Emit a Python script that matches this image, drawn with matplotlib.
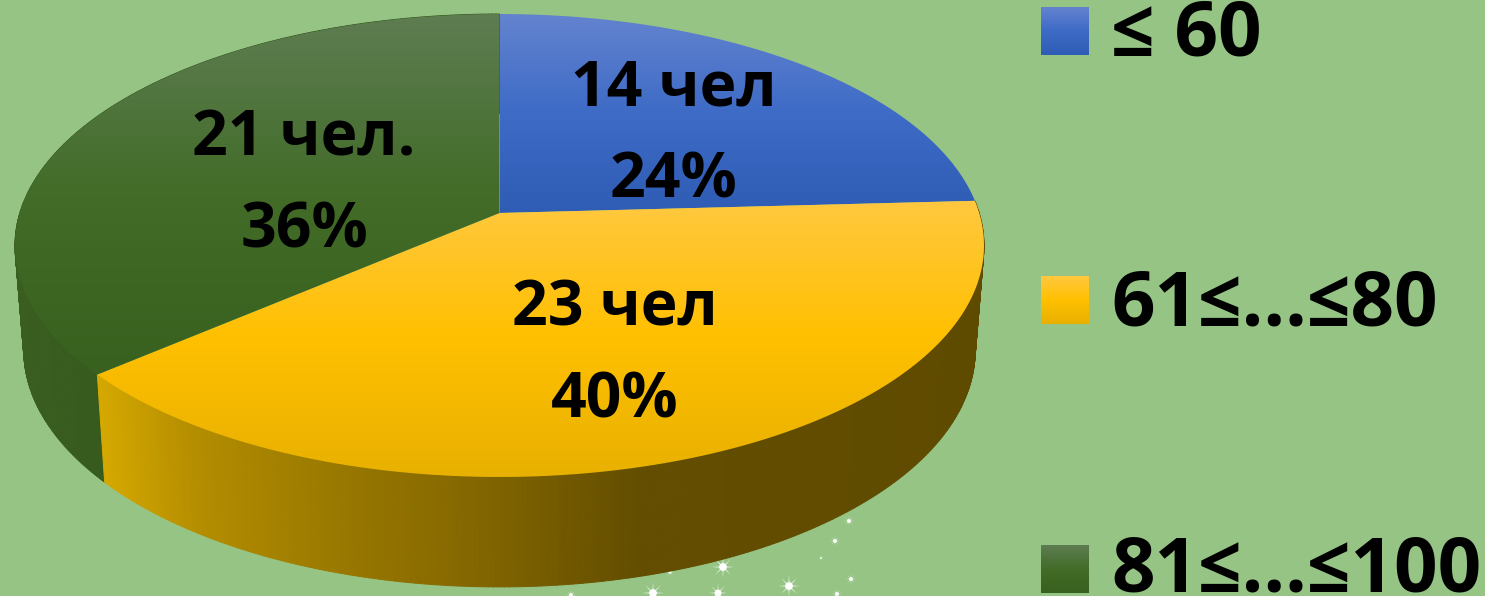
import matplotlib
matplotlib.use("Agg")
import matplotlib.pyplot as plt
from matplotlib.collections import PolyCollection
from matplotlib.colors import LinearSegmentedColormap, to_rgb
from matplotlib.patches import Polygon
from matplotlib.path import Path
import numpy as np

WIDTH, HEIGHT = 1485, 596
BG = "#95C484"

people = [14, 23, 21]
count_labels = ["14 чел", "23 чел", "21 чел."]
percent_labels = ["24%", "40%", "36%"]
legend_labels = ["≤ 60", "61≤...≤80", "81≤...≤100"]

top_colors = [
    ["#6483CF", "#3D6BC6", "#2F5CB4"],
    ["#FFC840", "#FFC000", "#E8B000"],
    ["#5E7D52", "#426C28", "#38601E"],
]
# x, baseline of the count, baseline of the percent
label_pos = [(674, 105, 197), (615, 326, 418), (304, 155, 247)]
legend_y = [7, 276, 545]
legend_base = [56, 325, 592]

# star sparkles along the bottom edge
star_x = [723, 789, 653, 849, 835, 821, 851, 718, 837, 571, 670]
star_y = [567, 586, 593, 521, 541, 558, 579, 593, 594, 595, 572]
star_s = [260, 260, 260, 60, 60, 12, 60, 200, 60, 60, 40]

CX = 499.5
TILT = 0.1404


def upper_rim(theta):
    u, v = np.sin(theta), np.cos(theta)
    w = 1 + TILT * v
    return CX + 479.7 * u / w, 213 - 226.9 * v / w


def lower_rim(theta):
    u, v = np.sin(theta), np.cos(theta)
    w = 1 + TILT * v
    return CX + 471 * u / w, 317 - 232 * v / w


def gradient(ax, colors, extent, clip=None):
    cmap = LinearSegmentedColormap.from_list("g", colors)
    img = ax.imshow(np.linspace(0, 1, 256).reshape(-1, 1), cmap=cmap, vmin=0, vmax=1,
                    extent=extent, aspect="auto", origin="upper", zorder=3)
    if clip is not None:
        patch = Polygon(clip, closed=True, transform=ax.transData, facecolor="none", edgecolor="none")
        ax.add_patch(patch)
        img.set_clip_path(patch)


def side_wall(ax, start, stop, xs, cols):
    theta = np.linspace(start, stop, 260)
    x1, y1 = upper_rim(theta)
    x2, y2 = lower_rim(theta)
    quads = []
    faces = []
    channels = np.array([to_rgb(c) for c in cols])
    for i in range(len(theta) - 1):
        quads.append([(x1[i], y1[i]), (x1[i + 1], y1[i + 1]), (x2[i + 1], y2[i + 1]), (x2[i], y2[i])])
        mid = (x1[i] + x2[i]) / 2
        faces.append([np.interp(mid, xs, channels[:, k]) for k in range(3)])
    ax.add_collection(PolyCollection(quads, facecolors=faces, edgecolors=faces, linewidths=0.7, zorder=2))


plt.rcParams["font.family"] = ["Open Sans", "DejaVu Sans"]
plt.rcParams["font.weight"] = "bold"

fig = plt.figure(figsize=(WIDTH / 100, HEIGHT / 100), dpi=100, facecolor=BG)
ax = fig.add_axes([0, 0, 1, 1])
ax.set_facecolor(BG)
ax.axis("off")

edges = 2 * np.pi * np.cumsum([0] + people) / sum(people)

# thin eight-ray sparkle with a small bright core
ax.scatter(star_x, star_y, s=star_s, marker=Path.unit_regular_star(8, 0.15), color="white",
           alpha=0.85, linewidths=0, zorder=1)
ax.scatter(star_x, star_y, s=np.array(star_s) * 0.12, marker="o", color="white", linewidths=0, zorder=1)

# walls: green at the back, yellow in front, the blue one stays hidden under the top
side_wall(ax, edges[2], edges[3], [20, 110], ["#3A5E20", "#365A1E"])
side_wall(ax, edges[1], edges[2],
          [100, 200, 300, 500, 640, 980],
          ["#D6A900", "#B48D00", "#A07E00", "#7F6300", "#634D00", "#5F4B00"])

# tops
for i in range(len(people)):
    theta = np.linspace(edges[i], edges[i + 1], 200)
    x, y = upper_rim(theta)
    px = np.r_[CX, x]
    py = np.r_[213, y]
    gradient(ax, top_colors[i], (px.min(), px.max(), py.max(), py.min()), np.c_[px, py])
    ax.text(label_pos[i][0], label_pos[i][1], count_labels[i], fontsize=45, ha="center", va="baseline", zorder=5)
    ax.text(label_pos[i][0], label_pos[i][2], percent_labels[i], fontsize=45, ha="center", va="baseline", zorder=5)

# legend
for i, name in enumerate(legend_labels):
    gradient(ax, top_colors[i], (1041, 1089, legend_y[i] + 48, legend_y[i]))
    ax.text(1111, legend_base[i], name, fontsize=55, ha="left", va="baseline", zorder=5)

ax.set_xlim(0, WIDTH)
ax.set_ylim(HEIGHT, 0)

fig.savefig("out.png", dpi=100, facecolor=BG)
